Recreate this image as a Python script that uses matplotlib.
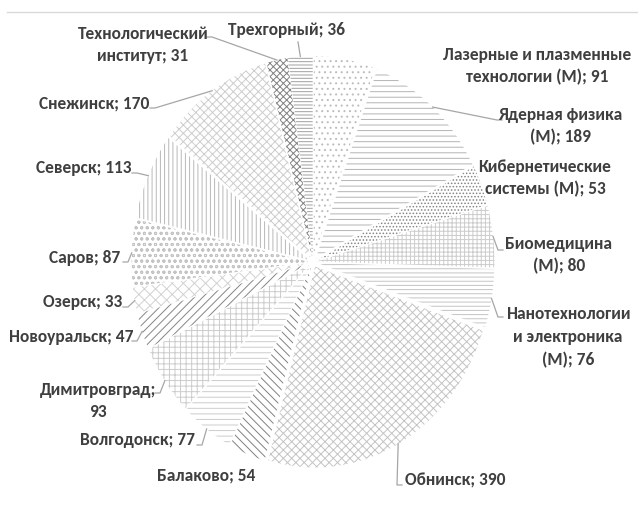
import numpy as np
import matplotlib
matplotlib.use("Agg")
import matplotlib.pyplot as plt
from matplotlib.lines import Line2D

plt.rcParams['font.family'] = ['Carlito', 'Roboto Condensed', 'DejaVu Sans']
plt.rcParams['hatch.linewidth'] = 0.7

# ---- data (clockwise from 12 o'clock) ----
labels = ["Лазерные и плазменные\nтехнологии (М); 91",
          "Ядерная физика\n(М); 189",
          "Кибернетические\nсистемы (М); 53",
          "Биомедицина\n(М); 80",
          "Нанотехнологии\nи электроника\n(М); 76",
          "Обнинск; 390",
          "Балаково; 54",
          "Волгодонск; 77",
          "Димитровград;\n93",
          "Новоуральск; 47",
          "Озерск; 33",
          "Саров; 87",
          "Северск; 113",
          "Снежинск; 170",
          "Технологический\nинститут; 31",
          "Трехгорный; 36"]
values = [91, 189, 53, 80, 76, 390, 54, 77, 93, 47, 33, 87, 113, 170, 31, 36]

hatches = ['...', '---', '.....', '++++', '----', 'xxxx', '\\\\\\\\', '---',
           '+++', '////', 'xxx', 'ooo', '||||', 'xxxx', 'xxxxx', '-----']
hcolors = ['#bcbcbc', '#b4b4b4', '#858585', '#cccccc', '#c4c4c4', '#c4c4c4',
           '#808080', '#cccccc', '#cccccc', '#858585', '#d2d2d2', '#c4c4c4',
           '#b8b8b8', '#cdcdcd', '#808080', '#a0a0a0']

# label block centres (pixels, from top-left)
lab_pos = [(537, 66), (560, 126), (545, 178), (559, 255), (568, 337),
           (455, 480), (206, 475), (137, 440), (98, 401), (71, 337),
           (83, 302), (85, 258), (84, 168), (94, 103), (143, 45), (287, 30)]
# leader start points next to labels (None = no leader)
lead_pos = [None, (502, 120), None, (503, 250), (503, 317),
            (402, 485), None, (197, 445), (155, 393), (132, 341),
            (123, 307), (123, 262), (132, 173), (150, 108), (207, 37), (298, 42)]

W, H = 638, 511
CX, CY, RX, RY = 313, 262, 177, 201


def px(x, y):
    return (x - CX) / RX, (CY - y) / RY


fig = plt.figure(figsize=(W / 100, H / 100), dpi=100)
ax = fig.add_axes([0, 0, 1, 1])

wedges, _ = ax.pie(values, startangle=90, counterclock=False,
                   explode=[0.025] * len(values),
                   wedgeprops=dict(linewidth=0))
for w, h, c in zip(wedges, hatches, hcolors):
    w.set_facecolor('white')
    w.set_edgecolor(c)
    w.set_linewidth(0)
    w.set_hatch(h)

ax.set_aspect('auto')
ax.set_xlim((0 - CX) / RX, (W - CX) / RX)
ax.set_ylim((CY - H) / RY, CY / RY)
ax.axis('off')

for w, lab, lp, ld in zip(wedges, labels, lab_pos, lead_pos):
    ax.text(*px(*lp), lab, ha='center', va='center', fontsize=12.5,
            fontweight='bold', color='#3f3f3f', linespacing=1.5)
    if ld is None:
        continue
    t = np.deg2rad((w.theta1 + w.theta2) / 2)
    ex = w.center[0] + w.r * np.cos(t)
    ey = w.center[1] + w.r * np.sin(t)
    sx, sy = px(*ld)
    if abs(ld[0] - 298) < 1:
        xs, ys = [sx, ex], [sy, ey]
    else:
        step = 5 / RX if ex > sx else -5 / RX
        xs, ys = [sx, sx + step, ex], [sy, sy, ey]
    ax.plot(xs, ys, color='#a6a6a6', lw=0.9)

# faint chart border at the top
fig.add_artist(Line2D([7 / W, 1], [1 - 12 / H, 1 - 12 / H],
                      color='#d9d9d9', lw=1))

fig.savefig("out.png", dpi=100)
